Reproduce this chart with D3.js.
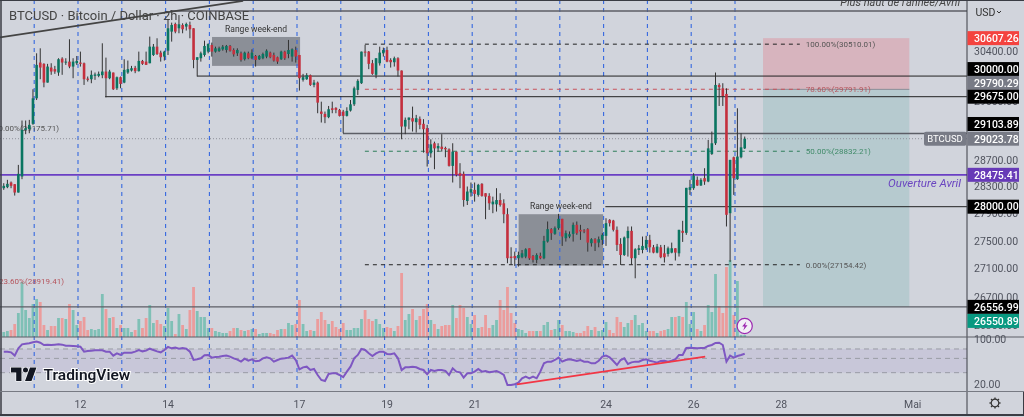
<!DOCTYPE html>
<html>
<head>
<meta charset="UTF-8">
<title>BTCUSD 2h</title>
<script src="https://d3js.org/d3.v7.min.js"></script>
<style>
  html, body { margin: 0; padding: 0; background: #d1d4dc; overflow: hidden; }
  svg { filter: blur(0.35px); }
  text { font-family: Roboto, sans-serif; }
  .axis path, .axis line { display: none; }
  .axis text { fill: #50535e; font-size: 10.5px; font-family: Roboto, sans-serif; }
</style>
</head>
<body>
<script>
// 2h candles, one row = one day
const opens = [
  28275,28290,28360,28335,28210,28450,29160,29170,29253,29650,30215,30194,
  29897,30135,30110,30056,30278,30215,30230,30151,30204,30215,30204,29960,
  29950,30004,30004,30014,30072,29966,30056,29807,29982,29897,30056,30088,
  30130,30078,30241,30230,30204,30336,30470,30374,30310,30405,30713,30837,
  30767,30821,30794,30821,30767,30257,30284,30336,30390,30497,30390,30400,
  30427,30416,30481,30416,30363,30363,30268,30363,30284,30320,30268,30284,
  30310,30374,30336,30300,30268,30390,30352,30310,30416,30336,29940,29950,
  30014,29860,29897,29443,29407,29356,29494,29500,29469,29443,29376,29458,
  29556,29781,29887,30390,30390,30204,30020,30204,30363,30416,30257,30220,
  30284,30088,29211,29314,29340,29278,29330,29253,29186,28801,28954,28876,
  28902,28882,28861,28610,28826,28500,28490,28084,28210,28250,28175,28340,
  28200,28160,28035,28035,28099,28050,27889,27272,27281,27248,27262,27272,
  27392,27281,27224,27281,27248,27489,27670,27601,27684,27821,27538,27562,
  27601,27733,27660,27650,27670,27465,27523,27474,27513,27572,27806,27796,
  27660,27455,27295,27538,27645,27248,27367,27367,27392,27513,27406,27329,
  27406,27319,27310,27329,27392,27319,27645,27616,28250,28275,28400,28315,
  28425,28375,28791,28954,29860,29807,29718,27904,28741,28410,28741,28876
];
const highs = [
  28350,28400,28375,28335,28625,29304,29304,29314,29792,30363,30443,30204,
  30194,30204,30162,30284,30300,30284,30589,30284,30320,30390,30215,29993,
  30088,30056,30072,30524,30294,30099,30056,29993,29993,30268,30247,30162,
  30162,30390,30257,30390,30632,30513,30605,30405,30405,30913,30859,30859,
  30983,30848,30859,30875,30767,30300,30390,30567,30524,30535,30470,30470,
  30497,30497,30497,30443,30443,30390,30390,30390,30427,30336,30336,30374,
  30427,30390,30374,30310,30405,30405,30578,30443,30470,30336,30035,30046,
  30025,29940,29913,29597,29443,29530,29597,29510,29484,29469,29510,29623,
  29834,29950,30390,30497,30400,30257,30284,30470,30454,30470,30284,30310,
  30300,30088,29350,29350,29520,29391,29366,29325,29237,29015,28979,28954,
  29093,28902,28876,28954,28826,28651,28525,28300,28360,28360,28340,28350,
  28200,28200,28149,28275,28200,28110,27977,27406,27343,27343,27367,27392,
  27392,27295,27319,27329,27572,27782,27684,27709,27894,27821,27650,27636,
  27767,27782,27733,27670,27684,27538,27538,27562,27611,27830,27816,27806,
  27709,27538,27562,27709,27709,27392,27440,27562,27572,27587,27440,27455,
  27440,27440,27416,27474,27392,27660,27792,28280,28400,28500,28450,28425,
  28575,29005,29134,30056,29887,29887,29807,28701,28751,29494,29108,29057
];
const lows = [
  28250,28275,28275,28165,28210,28410,29093,29108,29237,29623,29950,29823,
  29897,30020,30035,30004,30020,30178,30125,29966,30178,30151,29860,29913,
  29887,29940,29982,29966,29665,29950,29781,29781,29807,29887,30035,30072,
  30046,30072,30178,30178,30204,30320,30336,30230,30247,30336,30551,30686,
  30686,30686,30730,30605,30125,29993,30230,30310,30363,30310,30374,30384,
  30405,30374,30390,30310,30320,30230,30247,30268,30268,30151,30257,30268,
  30284,30284,30230,30194,30257,30257,30284,30230,30215,29771,29913,29940,
  29845,29823,29417,29273,29263,29340,29417,29417,29366,29108,29366,29443,
  29530,29702,29876,30310,30110,30020,29966,30167,30310,30220,30135,30151,
  29993,29015,29093,29170,29134,29118,29170,28811,28600,28736,28560,28826,
  28826,28741,28600,28360,28450,28275,28001,28025,28149,28075,28149,28149,
  27816,27953,27904,27928,28001,27757,27176,27152,27138,27129,27248,27248,
  27224,27186,27176,27233,27233,27474,27513,27587,27660,27426,27489,27538,
  27489,27587,27513,27611,27343,27416,27352,27406,27440,27426,27709,27636,
  27352,27152,27281,27272,27152,26961,27295,27319,27367,27329,27319,27319,
  27248,27186,27272,27319,27215,27272,27484,27587,28175,28250,28310,28310,
  28325,28365,28776,28928,29530,29530,27709,27195,28175,28400,28725,28866
];
const closes = [
  28310,28340,28310,28210,28490,29160,29186,29237,29650,30178,30135,29897,
  30151,30072,30072,30268,30215,30230,30151,30230,30241,30194,29950,29940,
  30020,30025,30035,30072,29966,30072,29792,29982,29876,30099,30110,30125,
  30078,30241,30194,30178,30470,30470,30352,30300,30390,30767,30821,30713,
  30832,30751,30837,30751,30257,30300,30363,30481,30513,30390,30443,30443,
  30470,30481,30405,30347,30416,30257,30374,30284,30374,30257,30320,30352,
  30405,30300,30247,30230,30390,30284,30416,30427,30310,29966,29982,30014,
  29860,29897,29582,29407,29356,29479,29469,29469,29376,29376,29453,29556,
  29807,29924,30390,30374,30194,30035,30284,30374,30416,30230,30220,30284,
  30088,29211,29314,29350,29288,29340,29237,29170,28801,28938,28876,28912,
  28866,28861,28610,28826,28475,28460,28099,28225,28260,28190,28325,28160,
  28149,28050,28075,28099,28025,27889,27248,27252,27248,27295,27319,27377,
  27248,27224,27295,27248,27499,27670,27611,27684,27821,27562,27611,27596,
  27733,27611,27636,27636,27474,27523,27465,27523,27587,27757,27757,27660,
  27440,27295,27548,27645,27248,27377,27392,27426,27513,27406,27329,27416,
  27262,27262,27392,27392,27329,27660,27616,28280,28290,28465,28315,28400,
  28375,28876,28954,29860,29823,29686,27880,28701,28425,28751,28892,29024
];
const volumes = [
  5,6,7,13,24,55,27,19,33,38,35,12,
  7,11,11,19,19,18,33,27,12,16,20,7,
  8,7,8,43,28,19,20,9,12,9,9,5,
  7,18,9,19,32,14,17,13,11,29,16,3,
  23,12,8,27,50,26,20,20,9,9,6,5,
  4,4,6,9,9,7,6,7,8,8,3,4,
  4,4,3,7,8,8,14,12,13,37,13,6,
  7,6,18,25,17,13,16,10,8,14,7,7,
  9,9,18,27,18,16,18,13,9,10,9,6,
  11,64,17,23,28,17,21,28,33,17,13,8,
  11,12,12,32,19,32,29,20,13,22,9,10,
  22,9,12,17,37,27,50,24,14,8,7,4,
  6,6,6,6,12,15,7,8,17,12,6,6,
  5,4,4,6,11,7,10,6,7,15,7,4,
  20,15,10,14,17,22,12,14,6,6,6,4,
  6,7,8,20,20,21,20,35,13,25,8,6,
  12,32,25,63,31,24,70,77,22,56,2,2
];
const rsi = [
  63.6,63.6,62.1,55.2,71.6,82.7,84.6,85.7,88.8,91,87.7,80.7,
  81.7,80.7,81.7,82.7,81.7,78.8,78.8,77.9,77,76,63.6,65.1,
  65.9,66.7,66.7,66.7,63.6,63.6,55.2,59.9,56.5,61.4,61.4,61.4,
  63.6,67.5,64.3,65.9,70.7,67.5,64.3,62.1,67.5,75.1,71.6,73.4,
  70.7,72.5,70.7,63.6,47.2,48.4,50.1,55.8,56.5,51.3,52.6,53.2,
  54.5,55.2,53.2,50.1,47.8,44.5,49.5,46,48.4,45,46,50.1,
  51.9,50.1,44.5,47.2,49.5,50.1,51.3,55.2,47.2,33.8,36.3,37.2,
  33,34.2,27.6,23.1,22.3,28.6,29.3,29.3,27.6,25.5,31.1,37.2,
  50.1,56.5,69.9,67.5,59.9,54.5,59.9,63.6,63.6,58.6,57.8,59.9,
  50.1,33,36.3,36.3,37.2,36.3,34.2,33,28.3,33,31.9,33,
  33,31.9,27.6,35,31.1,30.4,25.1,29.3,29.3,31.1,34.2,31.1,
  31.9,30.4,31.1,31.9,30,27.6,19.3,19.3,19.8,21,24.5,26,
  24.5,26,24.5,31.1,41.9,44.5,44.5,47.2,51.3,44.5,47.2,48.4,
  47.2,45.6,47.2,44.5,44.5,41.9,41.9,46,53.2,55.2,51.9,45.6,
  39.5,47.2,50.1,41,43.4,44.5,44.5,47.2,48.4,46,44.5,43,
  45.6,46,44.5,46,48.4,56.5,56.5,72.5,73.4,72.5,71.6,72.5,
  72.5,77.9,80.7,86.7,87.7,80.7,44.5,55.2,51.3,54.5,56.5,59
];

const firstDay = 10.305;            // day of April of the first candle
const candleStep = 1 / 12;          // 2h in days

// 30000 and 29200 sit fully under price tags, so they are left out
const priceTicks = [30400,29600,28700,28300,27900,27500,27100,26700,26300];
const rsiTicks = [100,20];
const rsiBands = [70,50,30];
const dayTicks = [12,14,17,19,21,24,26,28,31];
const dayLabels = ["12","14","17","19","21","24","26","28","Mai"];
const dayLines = [11,12,13,14,15,16,17,18,19,20,21,22,23,24,25,26,27];

// horizontal levels: start day, price, style
const levelStarts = [14.1,14.72,12.62,18.05,24.04,10.2];
const levelPrices = [31050,30000,29675,29103.89,28000,26556.99];
const levelDark = [false,true,true,false,true,false];
const openApril = 28475.41;
const lastPrice = 29023.78;

const fibPrices = [30510.01,29791.91,28832.21,27154.42];
const fibLabels = ["100.00%(30510.01)","78.60%(29791.91)","50.00%(28832.21)","0.00%(27154.42)"];
const fibColors = ["#222","#c8505a","#2e7d5a","#222"];
const fibTextColors = ["#555","#b5545c","#3f8a68","#555"];
const fibDays = [18.55,28.48];

// week-end boxes: day from, day to, price high, price low
const rangeBoxes = [[15.06,17.07,30626,30162],[22.06,23.99,27889,27143]];
const trendLine = [[10.22,30621],[15.77,31214]];
const rsiTrend = [[22.02,19.8],[26.32,53.1]];
const positionDays = [27.64,30.98];
const positionPrices = [30607.26,29790.29,26556.99];

const axisPrices = [30607.26,30000,29790.29,29675,29103.89,29023.78,28475.41,28000,26556.99,26550.89];
const axisColors = ["#f4433f","#000","#787b86","#000","#000","#787b86","#673ab7","#000","#000","#089981"];

const W = 1024, H = 417;
const axisX = 967, paneBottom = 337, rsiBottom = 391.5;

const svg = d3.select("body").append("svg")
  .attr("width", W).attr("height", H)
  .style("display", "block");

svg.append("clipPath").attr("id", "pane")
  .append("rect").attr("x", 0).attr("y", 0).attr("width", axisX).attr("height", H);

// scales, both price and rsi panes are log
const x = d3.scaleLinear().domain([12, 13]).range([78, 121.8]);
const y = d3.scaleLog().domain([30400, 26700]).range([51, 296.7]);
const yVol = d3.scaleLinear().domain([0, 100]).range([paneBottom, paneBottom - 100]);
const yRsi = d3.scaleLog().domain([100, 20]).range([339, 384]);

const candleX = i => x(firstDay + i * candleStep);
const chart = svg.append("g").attr("clip-path", "url(#pane)");

// position tool
chart.append("rect")
  .attr("x", x(positionDays[0])).attr("width", x(positionDays[1]) - x(positionDays[0]))
  .attr("y", y(positionPrices[0])).attr("height", y(positionPrices[1]) - y(positionPrices[0]))
  .attr("fill", "#f23645").attr("fill-opacity", 0.2);
chart.append("rect")
  .attr("x", x(positionDays[0])).attr("width", x(positionDays[1]) - x(positionDays[0]))
  .attr("y", y(positionPrices[1])).attr("height", y(positionPrices[2]) - y(positionPrices[1]))
  .attr("fill", "#00897b").attr("fill-opacity", 0.13);
chart.append("line")
  .attr("x1", x(positionDays[0])).attr("x2", x(positionDays[1]))
  .attr("y1", y(positionPrices[1])).attr("y2", y(positionPrices[1]))
  .attr("stroke", "#8a8d96");

// week-end boxes
chart.selectAll(".box").data(rangeBoxes).join("rect")
  .attr("x", d => x(d[0])).attr("width", d => x(d[1]) - x(d[0]))
  .attr("y", d => y(d[2])).attr("height", d => y(d[3]) - y(d[2]))
  .attr("fill", "#7f828b").attr("fill-opacity", 0.85);
chart.selectAll(".boxlabel").data(rangeBoxes).join("text")
  .attr("x", d => (x(d[0]) + x(d[1])) / 2)
  .attr("y", d => y(d[2]) - 5)
  .attr("text-anchor", "middle")
  .attr("font-size", 8.5).attr("fill", "#333")
  .text("Range week-end");

// volume
chart.selectAll(".vol").data(volumes).join("rect")
  .attr("x", (d, i) => candleX(i) - 1.4).attr("width", 2.8)
  .attr("y", d => yVol(d)).attr("height", d => paneBottom - yVol(d))
  .attr("fill", (d, i) => closes[i] >= opens[i] ? "#7fc0b6" : "#eb9c9c");

// rsi band
chart.append("rect")
  .attr("x", 0).attr("width", axisX)
  .attr("y", yRsi(70)).attr("height", yRsi(30) - yRsi(70))
  .attr("fill", "#7e57c2").attr("fill-opacity", 0.1);
chart.selectAll(".band").data(rsiBands).join("line")
  .attr("x1", 0).attr("x2", axisX)
  .attr("y1", d => yRsi(d)).attr("y2", d => yRsi(d))
  .attr("stroke", "#9a9ca5").attr("stroke-dasharray", "5 4");

// day separators
chart.selectAll(".day").data(dayLines).join("line")
  .attr("x1", d => x(d)).attr("x2", d => x(d))
  .attr("y1", 0).attr("y2", 389)
  .attr("stroke", "#3568e0").attr("stroke-width", 1.1).attr("stroke-dasharray", "4 4");

// dotted last price line
chart.append("line")
  .attr("x1", 0).attr("x2", axisX)
  .attr("y1", y(lastPrice)).attr("y2", y(lastPrice))
  .attr("stroke", "#8f919a").attr("stroke-dasharray", "1 2");

// levels
levelPrices.forEach((p, i) => {
  chart.append("line")
    .attr("x1", x(levelStarts[i])).attr("x2", axisX)
    .attr("y1", y(p)).attr("y2", y(p))
    .attr("stroke", levelDark[i] ? "#222" : "#5c5e66")
    .attr("stroke-width", levelDark[i] ? 1 : 1.4);
});
chart.append("line")
  .attr("x1", 0).attr("x2", axisX)
  .attr("y1", y(openApril)).attr("y2", y(openApril))
  .attr("stroke", "#6a3fc4").attr("stroke-width", 1.8);
chart.append("text")
  .attr("x", 961).attr("y", y(openApril) + 12)
  .attr("text-anchor", "end").attr("font-style", "italic")
  .attr("font-size", 11.5).attr("fill", "#6a45c0")
  .text("Ouverture Avril");

// fib
fibPrices.forEach((p, i) => {
  chart.append("line")
    .attr("x1", x(fibDays[0])).attr("x2", x(fibDays[1]))
    .attr("y1", y(p)).attr("y2", y(p))
    .attr("stroke", fibColors[i]).attr("stroke-dasharray", "4 4");
  chart.append("text")
    .attr("x", x(fibDays[1]) + 6).attr("y", y(p) + 3)
    .attr("font-size", 8).attr("fill", fibTextColors[i])
    .text(fibLabels[i]);
});
chart.append("text").attr("x", 59).attr("y", y(29175.71) + 2)
  .attr("text-anchor", "end").attr("font-size", 8).attr("fill", "#555")
  .text("0.00%(29175.71)");
chart.append("text").attr("x", 64).attr("y", 284)
  .attr("text-anchor", "end").attr("font-size", 8).attr("fill", "#b5545c")
  .text("23.60%(28919.41)");

// trend line above the chart
chart.append("line")
  .attr("x1", x(trendLine[0][0])).attr("y1", y(trendLine[0][1]))
  .attr("x2", x(trendLine[1][0])).attr("y2", y(trendLine[1][1]))
  .attr("stroke", "#444").attr("stroke-width", 1.8);

// candles
const candles = chart.selectAll(".candle").data(opens).join("g");
candles.append("line")
  .attr("x1", (d, i) => candleX(i)).attr("x2", (d, i) => candleX(i))
  .attr("y1", (d, i) => y(highs[i])).attr("y2", (d, i) => y(lows[i]))
  .attr("stroke", "#333").attr("stroke-width", 1);
candles.append("rect")
  .attr("x", (d, i) => candleX(i) - 1.3).attr("width", 2.6)
  .attr("y", (d, i) => y(Math.max(opens[i], closes[i])))
  .attr("height", (d, i) => Math.max(1, Math.abs(y(opens[i]) - y(closes[i]))))
  .attr("fill", (d, i) => closes[i] >= opens[i] ? "#0a7561" : "#c42f3d");

// rsi line
chart.append("path")
  .datum(rsi)
  .attr("fill", "none").attr("stroke", "#7e57c2").attr("stroke-width", 2)
  .attr("d", d3.line().x((d, i) => candleX(i)).y(d => yRsi(d)));
chart.append("line")
  .attr("x1", x(rsiTrend[0][0])).attr("y1", yRsi(rsiTrend[0][1]))
  .attr("x2", x(rsiTrend[1][0])).attr("y2", yRsi(rsiTrend[1][1]))
  .attr("stroke", "#f23645").attr("stroke-width", 1.8);

// title and note
svg.append("text").attr("x", 9).attr("y", 20)
  .attr("font-size", 13).attr("fill", "#444")
  .text("BTCUSD · Bitcoin / Dollar · 2h · COINBASE");
svg.append("text").attr("x", 960).attr("y", 6)
  .attr("text-anchor", "end").attr("font-style", "italic")
  .attr("font-size", 11).attr("fill", "#444")
  .text("Plus haut de l'année/Avril");

// tradingview logo
const logo = svg.append("g").attr("stroke", "#fff").attr("stroke-width", 1.2)
  .attr("paint-order", "stroke").attr("fill", "#131722");
logo.append("path").attr("d", "M11 367.5h10.5v13.5h-5.3v-8.5h-5.2z");
logo.append("circle").attr("cx", 25.5).attr("cy", 370).attr("r", 2.5);
logo.append("path").attr("d", "M30 367.5h6.5l-5 13.5h-6.5z");
logo.append("text").attr("x", 43.5).attr("y", 380)
  .attr("font-family", "Inter, sans-serif")
  .attr("font-size", 15.5).attr("font-weight", 600).attr("stroke-width", 2)
  .text("TradingView");

// lightning badge
const badge = svg.append("g").attr("transform", `translate(${candleX(203)},326)`);
badge.append("circle").attr("r", 7.6).attr("fill", "#f2eff6")
  .attr("stroke", "#9c27b0").attr("stroke-width", 1.2);
badge.append("path").attr("d", "M1.6 -4.6L-2.6 0.6H-0.2L-1.4 4.6L2.8 -0.8H0.4z").attr("fill", "#9c27b0");

// frame
const frame = svg.append("g").attr("stroke", "#3a3c44");
frame.append("line").attr("x1", 0).attr("x2", W).attr("y1", 0.5).attr("y2", 0.5);
frame.append("line").attr("x1", 0).attr("x2", W).attr("y1", 415).attr("y2", 415).attr("stroke-width", 2);
frame.append("line").attr("x1", 1).attr("x2", 1).attr("y1", 0).attr("y2", 415).attr("stroke-width", 1.5);
frame.append("line").attr("x1", W - 0.5).attr("x2", W - 0.5).attr("y1", 392).attr("y2", 415);
frame.append("line").attr("x1", axisX).attr("x2", axisX).attr("y1", 0).attr("y2", 415);
frame.append("line").attr("x1", 0).attr("x2", W).attr("y1", paneBottom).attr("y2", paneBottom).attr("stroke", "#5c5e66");
frame.append("line").attr("x1", 0).attr("x2", W).attr("y1", rsiBottom).attr("y2", rsiBottom).attr("stroke", "#777a83");

// axes
svg.append("g").attr("class", "axis")
  .attr("transform", `translate(${axisX + 7},0)`)
  .call(d3.axisRight(y).tickValues(priceTicks).tickSize(0).tickPadding(0).tickFormat(d3.format(".2f")));
svg.append("g").attr("class", "axis")
  .attr("transform", `translate(${axisX + 7},0)`)
  .call(d3.axisRight(yRsi).tickValues(rsiTicks).tickSize(0).tickPadding(0).tickFormat(d3.format(".2f")));
svg.append("g").attr("class", "axis")
  .attr("transform", `translate(2,${rsiBottom + 4})`)
  .call(d3.axisBottom(x).tickValues(dayTicks).tickSize(0).tickPadding(5).tickFormat((d, i) => dayLabels[i]));

// price tags, shifted where they would collide
const tagShift = { 30000: -7, 29790.29: -6.5, 29103.89: -9.5, 26550.89: 13.6 };
axisPrices.forEach((p, i) => {
  const cy = y(p) + (tagShift[p] || 0);
  svg.append("rect").attr("x", axisX + 0.5).attr("y", cy - 7).attr("width", 51.5).attr("height", 14)
    .attr("fill", axisColors[i]);
  svg.append("text").attr("x", axisX + 7).attr("y", cy + 3.8)
    .attr("font-size", 10.5).attr("font-weight", 500).attr("fill", "#fff")
    .text(d3.format(".2f")(p));
});
svg.append("rect").attr("x", 924).attr("y", y(lastPrice) - 7).attr("width", 42.5).attr("height", 14)
  .attr("rx", 2).attr("fill", "#787b86");
svg.append("text").attr("x", 945).attr("y", y(lastPrice) + 3.5)
  .attr("text-anchor", "middle").attr("font-size", 9.5).attr("fill", "#fff").text("BTCUSD");

// currency and gear
svg.append("text").attr("x", 975.5).attr("y", 16).attr("font-size", 10.5).attr("fill", "#333").text("USD");
svg.append("path").attr("d", "M997 11l2 2l2 -2").attr("fill", "none").attr("stroke", "#333");
const gear = svg.append("g").attr("transform", "translate(995,403)").attr("stroke", "#333").attr("fill", "none");
gear.append("circle").attr("r", 3.8).attr("stroke-width", 1.2);
d3.range(8).forEach(k => {
  const a = k * Math.PI / 4;
  gear.append("line").attr("x1", 3.8 * Math.cos(a)).attr("y1", 3.8 * Math.sin(a))
    .attr("x2", 5.6 * Math.cos(a)).attr("y2", 5.6 * Math.sin(a)).attr("stroke-width", 1.3);
});
</script>
</body>
</html>
